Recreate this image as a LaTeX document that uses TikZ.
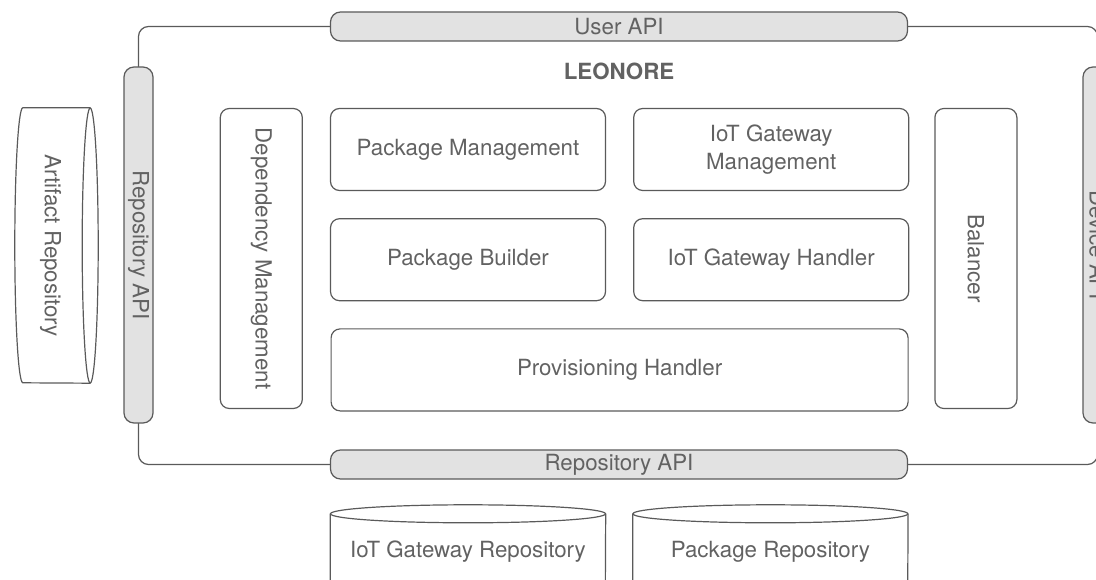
\documentclass[tikz,border=0pt]{standalone}
\usepackage{fontspec}
\setmainfont{TeX Gyre Heros}
\usepackage{graphicx}
\usepackage{tikz}
\usetikzlibrary{calc,positioning,backgrounds}
\definecolor{edge}{HTML}{5A5A5A}
\definecolor{ink}{HTML}{626262}
\definecolor{apifill}{HTML}{E2E2E2}
\newcommand{\vtext}[1]{\rotatebox{-90}{#1}}

\begin{document}
\begin{tikzpicture}[
x=1pt,y=-1pt,
node distance=27pt and 27pt,
every node/.style={font=\fontsize{22.3}{28}\selectfont,text=ink},
module/.style={draw=edge,line width=1.2pt,rounded corners=9pt,align=center,minimum width=275pt,minimum height=82pt,inner sep=0pt},
api/.style={draw=edge,line width=1.2pt,fill=apifill,rounded corners=10pt,inner sep=0pt},
storebody/.style={inner sep=0pt},
cyl/.style={draw=edge,line width=1.2pt},
frame/.style={draw=edge,line width=1.2pt,rounded corners=10pt}
]
\useasboundingbox (0,0) rectangle (1096,580);
\clip (0,0) rectangle (1096,580);

% interfaces around the platform
\node[api,minimum width=577pt,minimum height=29pt] (userapi) at (619,26.5) {User API};
\node[api,minimum width=577pt,minimum height=29pt] (repoapiB) at (619,464.5) {Repository API};
\node[api,minimum width=29pt,minimum height=356pt] (repoapiL) at (138.5,245) {\vtext{Repository API}};
\node[api,minimum width=29pt,minimum height=356pt] (devapi) at (1097.5,245) {\vtext{Device API}};
\begin{scope}[on background layer]
\draw[frame] (repoapiL.center |- userapi.center) rectangle (devapi.center |- repoapiB.center);
\end{scope}
\node[font=\fontsize{22.3}{28}\selectfont\bfseries] (leonore) at (619,71) {LEONORE};

% components
\node[module] (pkgmgmt) at (468,149.5) {Package Management};
\node[module,right=of pkgmgmt] (gwmgmt) {IoT Gateway\\Management};
\node[module,below=of pkgmgmt] (pkgbuild) {Package Builder};
\node[module,below=of gwmgmt] (gwhandler) {IoT Gateway Handler};
\node[module,minimum width=577pt,anchor=north] (provision) at ($(pkgbuild.south)!0.5!(gwhandler.south)+(0,27)$) {Provisioning Handler};
\node[module,minimum width=82pt,minimum height=300pt,left=of pkgmgmt.north west,anchor=north east] (depmgmt) {\vtext{Dependency Management}};
\node[module,minimum width=82pt,minimum height=300pt,anchor=north west] (balancer) at ([xshift=25pt]gwmgmt.north east) {\vtext{Balancer}};

% repositories (cylinders)
\node[storebody,minimum width=67pt,minimum height=275pt] (artifact) at (56.5,245.5) {\hspace*{-12pt}\vtext{Artifact Repository}};
\draw[cyl] (artifact.north east) -- (artifact.north west) arc[start angle=90,end angle=270,x radius=8pt,y radius=137.5pt] -- (artifact.south east);
\draw[cyl] (artifact.east) ellipse[x radius=8pt,y radius=137.5pt];

\node[storebody,minimum width=275pt,minimum height=76pt] (gwrepo) at (468,552) {IoT Gateway Repository};
\node[storebody,minimum width=275pt,minimum height=76pt,right=of gwrepo] (pkgrepo) {Package Repository};
\foreach \repo in {gwrepo,pkgrepo} {
  \draw[cyl] (\repo.north west) -- (\repo.south west) arc[start angle=180,end angle=360,x radius=137.5pt,y radius=9pt] -- (\repo.north east);
  \draw[cyl] (\repo.north) ellipse[x radius=137.5pt,y radius=9pt];
}
\end{tikzpicture}
\end{document}
